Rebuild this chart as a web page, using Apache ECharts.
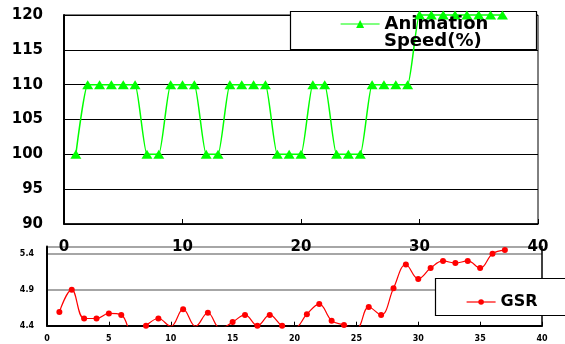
<!DOCTYPE html>
<html>
<head>
<meta charset="utf-8">
<script src="https://cdn.jsdelivr.net/npm/echarts@6/dist/echarts.min.js"></script>
<style>
html,body{margin:0;padding:0;background:#fff;}
#chart{width:565px;height:344px;}
</style>
</head>
<body>
<div id="chart"></div>
<script>
var xValues = [1,2,3,4,5,6,7,8,9,10,11,12,13,14,15,16,17,18,19,20,21,22,23,24,25,26,27,28,29,30,31,32,33,34,35,36,37];
var speedValues = [100,110,110,110,110,110,100,100,110,110,110,100,100,110,110,110,110,100,100,100,110,110,100,100,100,110,110,110,110,120,120,120,120,120,120,120,120];
var gsrValues = [4.59,4.90,4.50,4.50,4.57,4.55,4.25,4.40,4.50,4.39,4.63,4.39,4.58,4.36,4.45,4.55,4.40,4.55,4.40,4.37,4.56,4.70,4.47,4.41,4.36,4.66,4.55,4.92,5.25,5.05,5.20,5.30,5.27,5.30,5.20,5.40,5.45];
var speedName = 'Animation Speed(%)';
var gsrName = 'GSR';

var FONT = 'DejaVu Sans';
var chart = echarts.init(document.getElementById('chart'), null, {renderer: 'canvas'});

function pairs(xs, ys) { return xs.map(function (x, i) { return [x, ys[i]]; }); }

chart.setOption({
  backgroundColor: '#ffffff',
  animation: false,
  grid: [
    {left: 64, top: 15, width: 474, height: 209, show: true, borderColor: '#000', borderWidth: 1, backgroundColor: 'transparent'},
    {left: 47, top: 246.5, width: 495, height: 79.2, show: false}
  ],
  xAxis: [
    {gridIndex: 0, type: 'value', min: 0, max: 40, interval: 10,
     axisLine: {show: true, lineStyle: {color: '#000', width: 1.5}},
     axisTick: {show: true, inside: true, length: 5, lineStyle: {color: '#000', width: 1}},
     axisLabel: {fontFamily: FONT, fontWeight: 'bold', fontSize: 15, color: '#000', margin: 16},
     splitLine: {show: false}},
    {gridIndex: 1, type: 'value', min: 0, max: 40, interval: 5,
     axisLine: {show: true, lineStyle: {color: '#000', width: 2}},
     axisTick: {show: true, inside: true, length: 4, lineStyle: {color: '#000', width: 1}},
     axisLabel: {fontFamily: FONT, fontWeight: 'bold', fontSize: 8, color: '#000', margin: 9},
     splitLine: {show: false}}
  ],
  yAxis: [
    {gridIndex: 0, type: 'value', min: 90, max: 120, interval: 5,
     axisLine: {show: true, lineStyle: {color: '#000', width: 2}},
     axisTick: {show: false},
     axisLabel: {fontFamily: FONT, fontWeight: 'bold', fontSize: 15, color: '#000', margin: 21},
     splitLine: {show: true, lineStyle: {color: '#000', width: 1}}},
    {gridIndex: 1, type: 'value', min: 4.4, max: 5.5, interval: 0.5,
     axisLine: {show: true, lineStyle: {color: '#000', width: 2}},
     axisTick: {show: false},
     axisLabel: {fontFamily: FONT, fontWeight: 'bold', fontSize: 8, color: '#000', margin: 13, showMaxLabel: false,
                 formatter: function (v) { return v.toFixed(1); }},
     splitLine: {show: true, lineStyle: {color: '#888', width: 1.5}}},
    {gridIndex: 1, type: 'value', min: 4.4, max: 5.5, position: 'right',
     axisLine: {show: true, lineStyle: {color: '#000', width: 1.5}},
     axisTick: {show: false}, axisLabel: {show: false}, splitLine: {show: false}}
  ],
  legend: [
    {data: [speedName], left: 340, top: 15, orient: 'horizontal', itemWidth: 39, itemHeight: 10, padding: 0,
     formatter: function () { return 'Animation'; },
     textStyle: {fontFamily: FONT, fontWeight: 'bold', fontSize: 18, color: '#000'},
     lineStyle: {width: 1.2}},
    {data: [gsrName], left: 466, top: 294, itemWidth: 29, itemHeight: 7, padding: 0,
     textStyle: {fontFamily: FONT, fontWeight: 'bold', fontSize: 16, color: '#000'},
     lineStyle: {width: 1.2}}
  ],
  graphic: [
    {type: 'rect', z: 1, shape: {x: 290.5, y: 11.5, width: 246, height: 38},
     style: {fill: '#fff', stroke: '#000', lineWidth: 1.2}},
    {type: 'text', z: 5, x: 384, y: 41,
     style: {text: 'Speed(%)', fontFamily: FONT, fontWeight: 'bold', fontSize: 18, fill: '#000', verticalAlign: 'middle', align: 'left'}},
    {type: 'rect', z: 1, shape: {x: 435.5, y: 278.5, width: 140, height: 37},
     style: {fill: '#fff', stroke: '#000', lineWidth: 1.2}}
  ],
  series: [
    {name: speedName, type: 'line', xAxisIndex: 0, yAxisIndex: 0, data: pairs(xValues, speedValues),
     smooth: 0.15, symbol: 'triangle', symbolSize: [11, 9], clip: false, z: 3,
     lineStyle: {color: '#00ff00', width: 1.5}, itemStyle: {color: '#00ff00'}},
    {name: gsrName, type: 'line', xAxisIndex: 1, yAxisIndex: 1, data: pairs(xValues, gsrValues),
     smooth: 0.4, symbol: 'circle', symbolSize: 6, clip: true, z: 3,
     lineStyle: {color: '#ff0000', width: 1.2}, itemStyle: {color: '#ff0000'}}
  ]
});
</script>
</body>
</html>
